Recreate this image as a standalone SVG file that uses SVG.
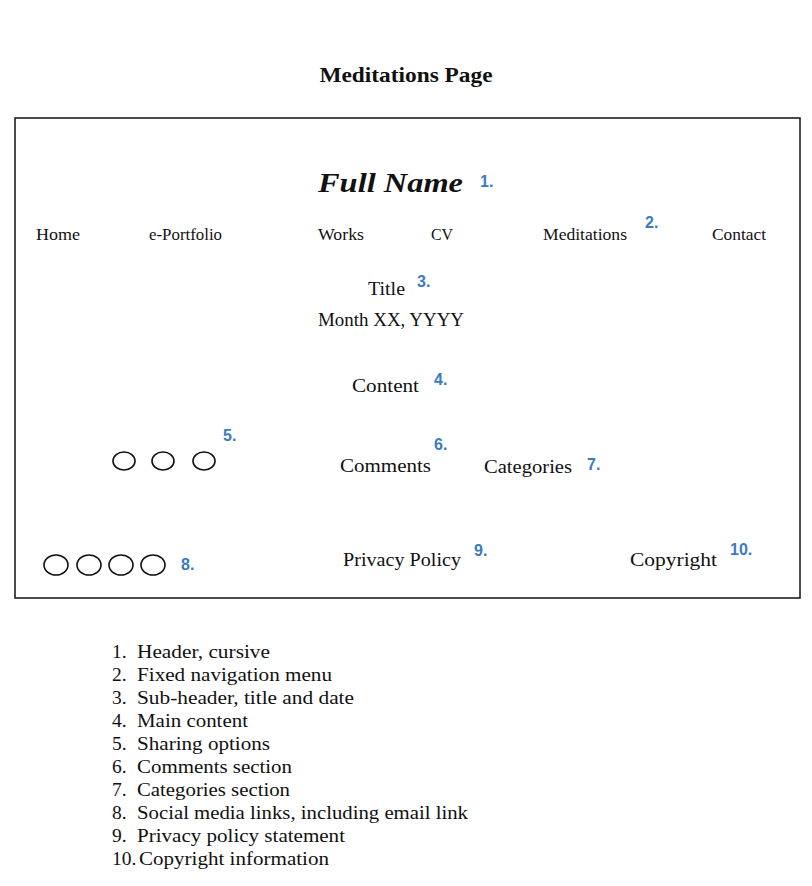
<svg xmlns="http://www.w3.org/2000/svg" width="812" height="886" viewBox="0 0 812 886">
<style>
text{font-family:"Liberation Serif","DejaVu Serif",serif;fill:#111}
.nav{font-size:16px}
.lbl{font-size:19px}
.num{font-family:"Liberation Sans","DejaVu Sans",sans-serif;font-weight:bold;font-size:16px;fill:#3a7bbf}
.lst{font-size:19.5px}
.c{fill:none;stroke:#111;stroke-width:1.6}
</style>
<rect width="812" height="886" fill="#fff"/>
<text id="page-title" x="406" y="82" text-anchor="middle" font-size="21" font-weight="bold" textLength="173" lengthAdjust="spacingAndGlyphs">Meditations Page</text>
<rect id="frame" x="15" y="118" width="785" height="480" fill="none" stroke="#111" stroke-width="1.5"/>
<g id="header">
<text x="318" y="192" font-size="27" font-weight="bold" font-style="italic" textLength="145" lengthAdjust="spacingAndGlyphs">Full Name</text>
<text class="num" x="480" y="187">1.</text>
</g>
<g id="nav">
<text class="nav" x="36" y="240" textLength="44" lengthAdjust="spacingAndGlyphs">Home</text>
<text class="nav" x="149" y="240" textLength="73" lengthAdjust="spacingAndGlyphs">e-Portfolio</text>
<text class="nav" x="318" y="240" textLength="46" lengthAdjust="spacingAndGlyphs">Works</text>
<text class="nav" x="431" y="240" textLength="22" lengthAdjust="spacingAndGlyphs">CV</text>
<text class="nav" x="543" y="240" textLength="84" lengthAdjust="spacingAndGlyphs">Meditations</text>
<text class="nav" x="712" y="240" textLength="54" lengthAdjust="spacingAndGlyphs">Contact</text>
<text class="num" x="645" y="228">2.</text>
</g>
<g id="subheader">
<text class="lbl" x="368" y="295" textLength="37" lengthAdjust="spacingAndGlyphs">Title</text>
<text class="num" x="417" y="287">3.</text>
<text class="lbl" x="318" y="326" textLength="146" lengthAdjust="spacingAndGlyphs">Month XX, YYYY</text>
</g>
<g id="content">
<text class="lbl" x="352" y="392" textLength="67" lengthAdjust="spacingAndGlyphs">Content</text>
<text class="num" x="434" y="385">4.</text>
</g>
<g id="sharing">
<ellipse class="c" cx="124" cy="461" rx="11" ry="9"/>
<ellipse class="c" cx="163" cy="461" rx="11" ry="9"/>
<ellipse class="c" cx="204" cy="461" rx="11" ry="9"/>
<text class="num" x="223" y="441">5.</text>
</g>
<g id="comments">
<text class="lbl" x="340" y="472" textLength="91" lengthAdjust="spacingAndGlyphs">Comments</text>
<text class="num" x="434" y="450">6.</text>
</g>
<g id="categories">
<text class="lbl" x="484" y="473" textLength="88" lengthAdjust="spacingAndGlyphs">Categories</text>
<text class="num" x="587" y="470">7.</text>
</g>
<g id="social">
<ellipse class="c" cx="56" cy="565" rx="12" ry="10"/>
<ellipse class="c" cx="89" cy="565" rx="12" ry="10"/>
<ellipse class="c" cx="121" cy="565" rx="12" ry="10"/>
<ellipse class="c" cx="153" cy="565" rx="12" ry="10"/>
<text class="num" x="181" y="570">8.</text>
</g>
<g id="privacy">
<text class="lbl" x="343" y="566" textLength="118" lengthAdjust="spacingAndGlyphs">Privacy Policy</text>
<text class="num" x="474" y="556">9.</text>
</g>
<g id="copyright">
<text class="lbl" x="630" y="566" textLength="87" lengthAdjust="spacingAndGlyphs">Copyright</text>
<text class="num" x="730" y="555">10.</text>
</g>
<g id="legend">
<text class="lst" x="112" y="658">1.</text><text class="lst" x="137" y="658" textLength="133" lengthAdjust="spacingAndGlyphs">Header, cursive</text>
<text class="lst" x="112" y="681">2.</text><text class="lst" x="137" y="681" textLength="195" lengthAdjust="spacingAndGlyphs">Fixed navigation menu</text>
<text class="lst" x="112" y="704">3.</text><text class="lst" x="137" y="704" textLength="217" lengthAdjust="spacingAndGlyphs">Sub-header, title and date</text>
<text class="lst" x="112" y="727">4.</text><text class="lst" x="137" y="727" textLength="111" lengthAdjust="spacingAndGlyphs">Main content</text>
<text class="lst" x="112" y="750">5.</text><text class="lst" x="137" y="750" textLength="133" lengthAdjust="spacingAndGlyphs">Sharing options</text>
<text class="lst" x="112" y="773">6.</text><text class="lst" x="137" y="773" textLength="155" lengthAdjust="spacingAndGlyphs">Comments section</text>
<text class="lst" x="112" y="796">7.</text><text class="lst" x="137" y="796" textLength="153" lengthAdjust="spacingAndGlyphs">Categories section</text>
<text class="lst" x="112" y="819">8.</text><text class="lst" x="137" y="819" textLength="331" lengthAdjust="spacingAndGlyphs">Social media links, including email link</text>
<text class="lst" x="112" y="842">9.</text><text class="lst" x="137" y="842" textLength="208" lengthAdjust="spacingAndGlyphs">Privacy policy statement</text>
<text class="lst" x="112" y="865">10.</text><text class="lst" x="139" y="865" textLength="190" lengthAdjust="spacingAndGlyphs">Copyright information</text>
</g>
</svg>
